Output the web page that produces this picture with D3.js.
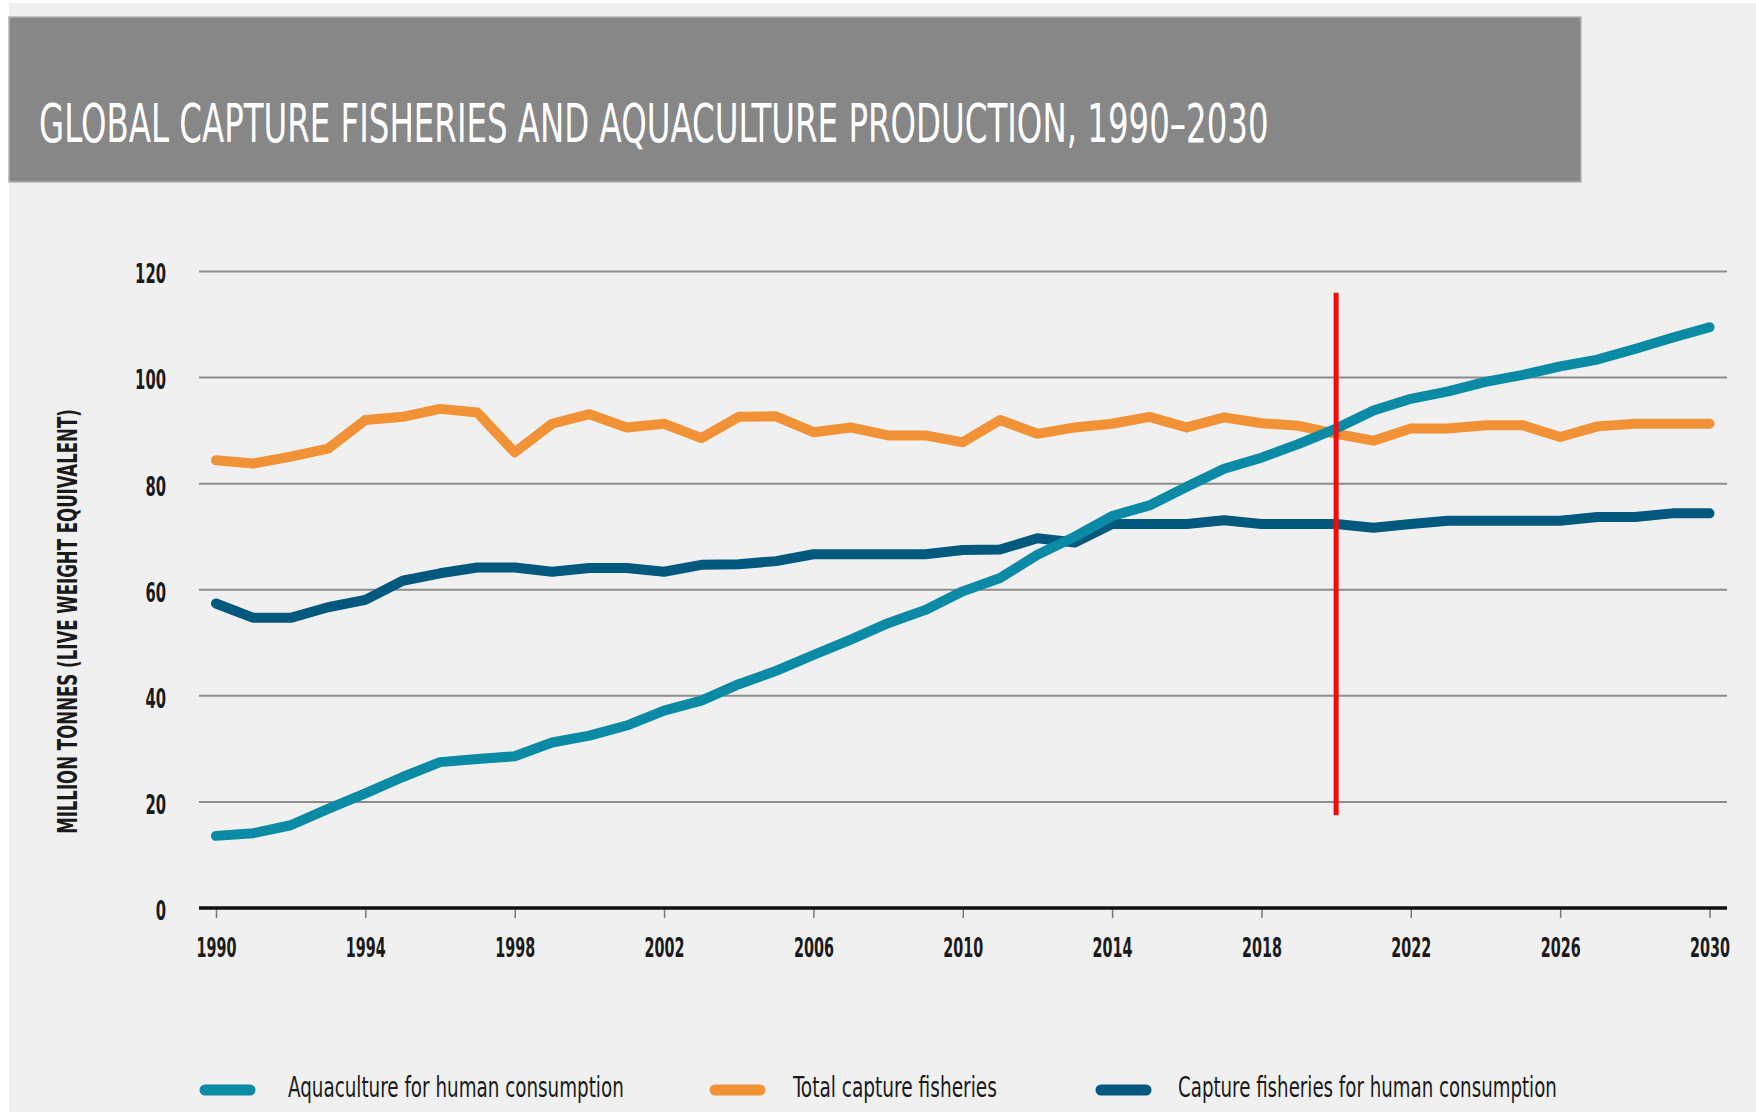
<!DOCTYPE html>
<html>
<head>
<meta charset="utf-8">
<style>
  body { margin: 0; background: #fff; }
  svg { display: block; }
  .cond { font-family: "Liberation Sans Narrow", "DejaVu Sans Condensed", "Roboto", sans-serif; }
</style>
</head>
<body>

<script src="https://d3js.org/d3.v7.min.js"></script>
<script>

const width = 1756;
const height = 1112;

// data (million tonnes)
const years = [1990, 1991, 1992, 1993, 1994, 1995, 1996, 1997, 1998, 1999,
               2000, 2001, 2002, 2003, 2004, 2005, 2006, 2007, 2008, 2009,
               2010, 2011, 2012, 2013, 2014, 2015, 2016, 2017, 2018, 2019,
               2020, 2021, 2022, 2023, 2024, 2025, 2026, 2027, 2028, 2029, 2030];

const aquaculture = [13.6, 14.1, 15.6, 18.7, 21.6, 24.7, 27.5, 28.1, 28.6, 31.2,
                     32.5, 34.4, 37.2, 39.1, 42.2, 44.7, 47.7, 50.6, 53.7, 56.2,
                     59.7, 62.2, 66.6, 70.0, 73.9, 75.9, 79.4, 82.8, 84.9, 87.5,
                     90.4, 93.8, 96.0, 97.4, 99.2, 100.5, 102.1, 103.4, 105.4, 107.5, 109.5];

const totalCapture = [84.4, 83.8, 85.1, 86.6, 92.0, 92.6, 94.1, 93.4, 85.9, 91.3,
                      93.1, 90.6, 91.3, 88.6, 92.6, 92.7, 89.7, 90.6, 89.1, 89.1,
                      87.8, 92.0, 89.4, 90.6, 91.3, 92.6, 90.6, 92.5, 91.4, 90.9,
                      89.4, 88.1, 90.4, 90.4, 91.0, 91.0, 88.8, 90.8, 91.3, 91.3, 91.3];

const captureHuman = [57.4, 54.7, 54.7, 56.7, 58.1, 61.7, 63.1, 64.2, 64.2, 63.4,
                      64.1, 64.1, 63.4, 64.7, 64.8, 65.4, 66.7, 66.7, 66.7, 66.7,
                      67.5, 67.6, 69.7, 68.9, 72.4, 72.4, 72.4, 73.1, 72.4, 72.4,
                      72.4, 71.7, 72.4, 73.0, 73.0, 73.0, 73.0, 73.7, 73.7, 74.4, 74.4];

const xTicks = [1990, 1994, 1998, 2002, 2006, 2010, 2014, 2018, 2022, 2026, 2030];
const yTicks = [0, 20, 40, 60, 80, 100, 120];

const seriesNames = ['Aquaculture for human consumption', 'Total capture fisheries', 'Capture fisheries for human consumption'];
const seriesColors = ['#0a8aa4', '#f19236', '#02597d'];

const markerYear = 2020;
const markerRange = [17.5, 116];

const title = 'GLOBAL CAPTURE FISHERIES AND AQUACULTURE PRODUCTION, 1990\u20132030';
const yTitle = 'MILLION TONNES (LIVE WEIGHT EQUIVALENT)';

const svg = d3.select('body')
              .append('svg')
              .attr('width', width)
              .attr('height', height);

// squeeze a text horizontally so it is w pixels wide (condensed face look)
const squeeze = (sel, w, pre) => {
  sel.each(function(d, i) {
    const target = typeof w === 'function' ? w(d, i) : w;
    const len = this.getComputedTextLength();
    const sx = len > 0 ? target / len : 1;
    d3.select(this).attr('transform', `${pre ? pre(d, i) : ''} scale(${sx},1)`);
  });
};

// page background + title banner
svg.append('rect')
   .attr('x', 9).attr('y', 3)
   .attr('width', width - 9).attr('height', height - 3)
   .attr('fill', '#f0f0f0');

svg.append('rect')
   .attr('x', 9).attr('y', 17)
   .attr('width', 1572).attr('height', 165)
   .attr('fill', '#878787')
   .attr('stroke', '#b4b4b4')
   .attr('stroke-width', 1.5);

svg.append('text')
   .attr('class', 'cond')
   .attr('font-size', 54)
   .attr('fill', '#fff')
   .text(title)
   .call(squeeze, 1230, () => 'translate(39,142)');

const x = d3.scaleLinear().domain([1990, 2030]).range([216, 1709.5]);
const y = d3.scaleLinear().domain([0, 120]).range([908, 271.5]);

const gridLeft = 199;
const gridRight = 1727;

// gridlines
svg.append('g')
   .selectAll('line')
   .data(yTicks.filter(d => d > 0))
   .enter()
   .append('line')
   .attr('x1', gridLeft).attr('x2', gridRight)
   .attr('y1', d => y(d)).attr('y2', d => y(d))
   .attr('stroke', '#8c8c8c')
   .attr('stroke-width', 2);

// y axis labels
const yAxis = svg.append('g')
   .attr('transform', `translate(${gridLeft},0)`)
   .call(d3.axisLeft(y).tickValues(yTicks).tickSize(0).tickPadding(33));
yAxis.select('.domain').remove();
yAxis.selectAll('text')
     .attr('class', 'cond')
     .attr('font-size', 27)
     .attr('font-weight', 'bold')
     .attr('fill', '#1a1a1a')
     .attr('x', 0)
     .attr('dy', '0.42em')
     .call(squeeze, d => String(d).length * 10.3, () => 'translate(-33,0)');

// x axis
const xAxis = svg.append('g')
   .attr('transform', `translate(0,${y(0)})`)
   .call(d3.axisBottom(x).tickValues(xTicks).tickFormat(d3.format('d')).tickSize(10).tickPadding(20));
xAxis.select('.domain').remove();
xAxis.selectAll('.tick line').attr('stroke', '#777').attr('stroke-width', 1.5);
xAxis.selectAll('text')
     .attr('class', 'cond')
     .attr('font-size', 27)
     .attr('font-weight', 'bold')
     .attr('fill', '#1a1a1a')
     .call(squeeze, 40);

svg.append('line')
   .attr('x1', gridLeft).attr('x2', gridRight)
   .attr('y1', y(0)).attr('y2', y(0))
   .attr('stroke', '#111')
   .attr('stroke-width', 3.5);

// y title
svg.append('text')
   .attr('class', 'cond')
   .attr('text-anchor', 'middle')
   .attr('font-size', 27)
   .attr('font-weight', 'bold')
   .attr('fill', '#1a1a1a')
   .text(yTitle)
   .call(squeeze, 425, () => `translate(77,${(409 + 834) / 2}) rotate(-90)`);

// series lines
const allSeries = [aquaculture, totalCapture, captureHuman];
const line = d3.line()
   .x((d, i) => x(years[i]))
   .y(d => y(d));

// draw order: orange under, dark, then aqua on top
const drawOrder = [1, 2, 0];
svg.append('g')
   .selectAll('path')
   .data(drawOrder)
   .enter()
   .append('path')
   .attr('d', k => line(allSeries[k]))
   .attr('fill', 'none')
   .attr('stroke', k => seriesColors[k])
   .attr('stroke-width', 10)
   .attr('stroke-linecap', 'round')
   .attr('stroke-linejoin', 'round');

// red marker at 2020
svg.append('line')
   .attr('x1', x(markerYear)).attr('x2', x(markerYear))
   .attr('y1', y(markerRange[0])).attr('y2', y(markerRange[1]))
   .attr('stroke', '#f50a0a')
   .attr('stroke-width', 5);

// legend
const legendX = [202, 712, 1098];
const legendTextX = [86, 81, 80];
const legendTextW = [336, 204, 379];
const legend = svg.append('g')
   .selectAll('g')
   .data(seriesNames)
   .enter()
   .append('g')
   .attr('transform', (d, i) => `translate(${legendX[i]},1090)`);

legend.append('line')
      .attr('x1', 3).attr('x2', 48)
      .attr('y1', 0).attr('y2', 0)
      .attr('stroke', (d, i) => seriesColors[i])
      .attr('stroke-width', 11)
      .attr('stroke-linecap', 'round');

legend.append('text')
      .attr('class', 'cond')
      .attr('font-size', 29)
      .attr('fill', '#1a1a1a')
      .text(d => d)
      .call(squeeze, (d, i) => legendTextW[i], (d, i) => `translate(${legendTextX[i]},7)`);

</script>
</body>
</html>
